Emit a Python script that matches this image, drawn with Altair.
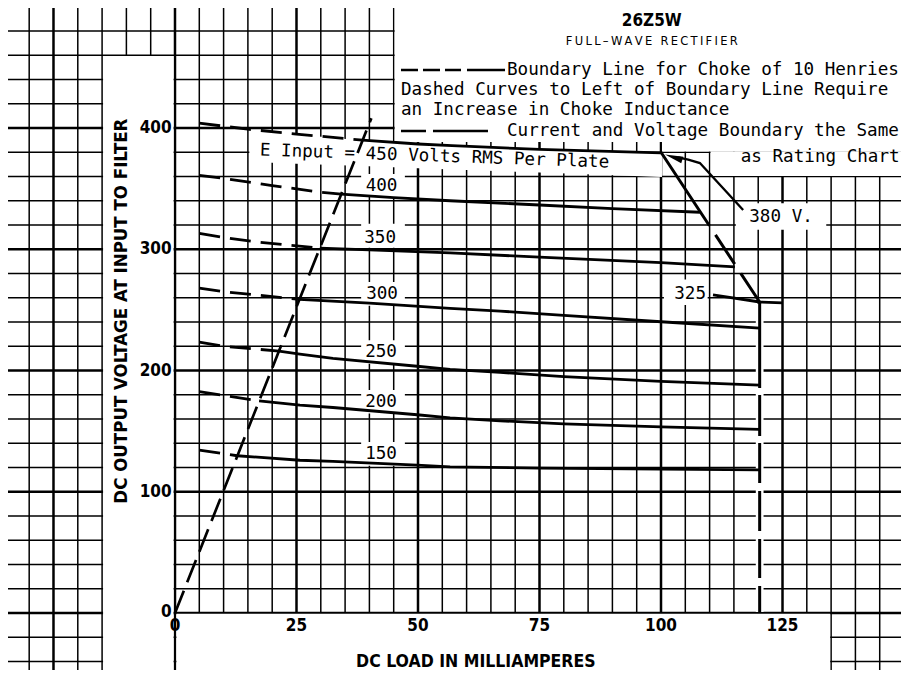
import altair as alt
import pandas as pd
import numpy as np

# ---------------- values ----------------
plate_volts = [450, 400, 350, 300, 250, 200, 150]

load_450 = [5, 15, 25, 38.6, 50, 57, 75, 100]
out_450 = [404, 399, 395, 390, 386.8, 385.4, 382.4, 379.5]
load_400 = [5, 10, 20, 30, 34.2, 45, 56.6, 75, 90, 108]
out_400 = [361, 358.5, 352.5, 347, 345.4, 342.5, 340, 336.5, 333.5, 330.5]
load_350 = [5, 10, 16, 23, 29.8, 40, 56.6, 75, 100, 115.2]
out_350 = [313, 309.7, 306.4, 303.5, 301, 299.5, 297, 293.5, 289, 285.4]
load_300 = [5, 10, 25.6, 40, 56.6, 66.9, 80, 100, 120.3]
out_300 = [268, 265, 258.7, 255.5, 251.3, 249, 245.5, 240.2, 235]
load_250 = [5, 10, 21.4, 25.7, 32.5, 49.8, 56.6, 66.9, 80, 100, 120.3]
out_250 = [223.5, 220, 216, 213.5, 210, 203.5, 201, 198.5, 195, 191, 188]
load_200 = [5, 10, 17.3, 25.7, 32.5, 49.8, 56.6, 66.9, 80, 100, 120.3]
out_200 = [182.5, 179.5, 175, 171.5, 169.5, 163.5, 161, 158.5, 156, 153.5, 151.5]
load_150 = [5, 12.8, 25.7, 32.5, 49.8, 56.6, 75, 100, 120.3]
out_150 = [134.4, 129.7, 126, 125, 122, 120.5, 119.5, 118.7, 118]
# point where each curve meets the 10-henry choke boundary line
cross_index = [3, 4, 4, 2, 2, 2, 1]

load_325 = [110.7, 120.3, 125]
out_325 = [262.3, 256.5, 255.8]

choke_load = [0, 40.4]
choke_out = [0, 408]

rating_diag_load = [100, 120.3]
rating_diag_out = [380, 256.5]
rating_vert_load = [120.3, 120.3]
rating_vert_out = [256.5, 0]

x_ticks = [0, 25, 50, 75, 100, 125]
y_ticks = [0, 100, 200, 300, 400]

# graph-paper rulings (mA every 5, volts every 20)
grid_x = list(range(-35, 155, 5))
grid_y = list(range(-60, 520, 20))

curve_labels = ["400", "350", "300", "250", "200", "150"]

legend_lines = [
    "Boundary Line for Choke of 10 Henries",
    "Dashed Curves  to Left of Boundary Line Require",
    "an Increase in Choke Inductance",
    "Current and Voltage Boundary the Same",
]
legend_last = "as Rating Chart"
title_text = "26Z5W"
subtitle_text = "\u2009".join("FULL\u2013WAVE RECTIFIER")
einput_text = "E Input = 450 Volts RMS Per Plate"
x_title = "DC LOAD IN MILLIAMPERES"
y_title = "DC OUTPUT VOLTAGE AT INPUT TO FILTER"

# ---------------- layout (scale calibration of the graph paper) ----------------
W, H = 893, 662
X_DOMAIN = [-34.36, 149.38]
Y_DOMAIN = [-47.0, 498.97]
MONO = "DejaVu Sans Mono"
BOLD = "DejaVu Sans Condensed, DejaVu Sans"
SANS = "DejaVu Sans"

xs = alt.Scale(domain=X_DOMAIN, nice=False, zero=False)
ys = alt.Scale(domain=Y_DOMAIN, nice=False, zero=False)


def X(field="x"):
    return alt.X(f"{field}:Q", scale=xs, axis=None)


def Y(field="v"):
    return alt.Y(f"{field}:Q", scale=ys, axis=None)


# ---------------- graph paper ----------------
gx = pd.DataFrame({"x": grid_x})
gx["major"] = gx["x"] % 25 == 0
gy = pd.DataFrame({"v": grid_y})
gy["major"] = gy["v"] % 100 == 0

MINOR_W, MAJOR_W = 1.5, 2.5
gx_minor = alt.Chart(gx[~gx["major"]]).mark_rule(color="black", strokeWidth=MINOR_W).encode(x=X())
gx_major = alt.Chart(gx[gx["major"]]).mark_rule(color="black", strokeWidth=MAJOR_W).encode(x=X())
gy_minor = alt.Chart(gy[~gy["major"]]).mark_rule(color="black", strokeWidth=MINOR_W).encode(y=Y())
gy_major = alt.Chart(gy[gy["major"]]).mark_rule(color="black", strokeWidth=MAJOR_W).encode(y=Y())

# ---------------- white masks over the graph paper ----------------
label_x1, label_x2 = 38.3, 47.3
masks = pd.DataFrame(
    [
        (-14.8, -0.3, -60, 459.4),      # y-axis strip
        (0.3, 134.8, -60, -0.6),        # x-axis strip
        (45.2, 151, 388.4, 501),        # legend box
        (100.2, 151, 380.6, 388.4),
        (110.2, 151, 360.5, 380.6),
        (label_x1, label_x2, 343, 362),
        (label_x1, label_x2, 301.3, 321),
        (label_x1, label_x2, 253.5, 273),
        (label_x1, label_x2, 205.5, 225),
        (label_x1, label_x2, 164.5, 184),
        (label_x1, label_x2, 121.5, 141),
        (115.4, 134, 316, 338),         # 380 V. label
        (100.6, 109.6, 254, 275),       # 325 label
        (119.5, 121.1, 0.8, 255),       # gaps of the dashed 120 mA boundary
    ],
    columns=["x", "x2", "v", "v2"],
)
mask_layer = alt.Chart(masks).mark_rect(color="white", opacity=1, clip=True).encode(
    x=X("x"), x2="x2:Q", y=Y("v"), y2="v2:Q"
)

# mask behind the "E Input" caption, bounded above by the 450 V curve
ein_x = [15.3, 25, 38.6, 50, 57, 75, 100.2]
ein_top = np.interp(ein_x, load_450, out_450) - 0.3
ein_bot = np.interp(ein_x, [15.3, 100.2], [372, 359.5])
ein_df = pd.DataFrame({"x": ein_x, "v": ein_bot, "v2": ein_top})
ein_layer = alt.Chart(ein_df).mark_area(color="white", opacity=1, clip=True).encode(
    x=X(), y=Y(), y2="v2:Q"
)

# ---------------- curves ----------------
loads = [load_450, load_400, load_350, load_300, load_250, load_200, load_150]
outs = [out_450, out_400, out_350, out_300, out_250, out_200, out_150]
rows = []
for pv, ld, ov, k in zip(plate_volts, loads, outs, cross_index):
    for i, (a, b) in enumerate(zip(ld, ov)):
        if i <= k:
            rows.append((pv, "dashed", a, b))
        if i >= k:
            rows.append((pv, "solid", a, b))
for a, b in zip(load_325, out_325):
    rows.append((325, "solid", a, b))
curves = pd.DataFrame(rows, columns=["curve", "style", "x", "v"])

dashed_layer = alt.Chart(curves[curves["style"] == "dashed"]).mark_line(
    color="black", strokeWidth=2.8, strokeDash=[21, 10], clip=True
).encode(x=X(), y=Y(), detail="curve:N")
solid_layer = alt.Chart(curves[curves["style"] == "solid"]).mark_line(
    color="black", strokeWidth=2.8, clip=True
).encode(x=X(), y=Y(), detail="curve:N")

choke_df = pd.DataFrame({"x": choke_load, "v": choke_out})
choke_layer = alt.Chart(choke_df).mark_line(
    color="black", strokeWidth=2.7, strokeDash=[24, 9], clip=True
).encode(x=X(), y=Y())

diag_df = pd.DataFrame({"x": rating_diag_load, "v": rating_diag_out})
diag_layer = alt.Chart(diag_df).mark_line(
    color="black", strokeWidth=3, strokeDash=[88, 11, 35, 11, 60], clip=True
).encode(x=X(), y=Y())

vert_df = pd.DataFrame({"x": rating_vert_load, "v": rating_vert_out, "i": [0, 1]})
vert_layer = alt.Chart(vert_df).mark_line(
    color="black", strokeWidth=3, strokeDash=[86, 7, 41, 7, 40, 8, 40, 8, 39, 8, 60], clip=True
).encode(x=X(), y=Y(), order="i:Q")

# arrow from the "380 V." label to the end of the 450 V curve
arrow_df = pd.DataFrame({"x": [116.9, 108.0, 105.6, 103.5], "v": [332.4, 371.1, 374.0, 375.7],
                         "i": [0, 1, 2, 3]})
arrow_layer = alt.Chart(arrow_df).mark_line(color="black", strokeWidth=2.3, clip=True).encode(
    x=X(), y=Y(), order="i:Q"
)
head_df = pd.DataFrame({"x": [102.6], "v": [375.9]})
head_layer = alt.Chart(head_df).mark_point(
    shape="M-1,0L1,-0.38L1,0.38Z", filled=True, color="black", opacity=1, size=330, angle=18
).encode(x=X(), y=Y())

# legend line samples
samp1 = pd.DataFrame({"x": [46.5, 67.9], "v": [447.8, 447.8]})
samp1_layer = alt.Chart(samp1).mark_line(
    color="black", strokeWidth=2.6, strokeDash=[17, 5, 17, 5, 16, 6, 80]
).encode(x=X(), y=Y())
samp2 = pd.DataFrame({"x": [46.5, 64.4], "v": [397.5, 397.5]})
samp2_layer = alt.Chart(samp2).mark_line(
    color="black", strokeWidth=2.6, strokeDash=[25, 7, 80]
).encode(x=X(), y=Y())

# ---------------- texts ----------------
leg_df = pd.DataFrame({"x": [68.3, 46.5, 46.5, 68.3], "v": [447.8, 431.3, 414.8, 397.5],
                       "t": legend_lines})
leg_layer = alt.Chart(leg_df).mark_text(
    align="left", baseline="middle", font=MONO, fontSize=17.6, color="black"
).encode(x=X(), y=Y(), text="t:N")

leg5 = pd.DataFrame({"x": [149.1], "v": [376.1], "t": [legend_last]})
leg5_layer = alt.Chart(leg5).mark_text(
    align="right", baseline="middle", font=MONO, fontSize=17.6, color="black"
).encode(x=X(), y=Y(), text="t:N")

title_df = pd.DataFrame({"x": [98.1], "v": [488.2], "t": [title_text]})
title_layer = alt.Chart(title_df).mark_text(
    align="center", baseline="middle", font=BOLD, fontWeight="bold", fontSize=17, color="black"
).encode(x=X(), y=Y(), text="t:N")

sub_df = pd.DataFrame({"x": [98.1], "v": [470.9], "t": [subtitle_text]})
sub_layer = alt.Chart(sub_df).mark_text(
    align="center", baseline="middle", font=SANS, fontSize=11.5, color="black"
).encode(x=X(), y=Y(), text="t:N")

ein_t = pd.DataFrame({"x": [53.4], "v": [376.5], "t": [einput_text]})
ein_t_layer = alt.Chart(ein_t).mark_text(
    align="center", baseline="middle", font=MONO, fontSize=17.6, color="black", angle=2
).encode(x=X(), y=Y(), text="t:N")

lab_df = pd.DataFrame({
    "x": [42.5, 42.2, 42.6, 42.4, 42.4, 42.4, 124.7, 106.0],
    "v": [352.2, 309.3, 263.1, 215.3, 174.0, 131.1, 326.6, 263.1],
    "t": curve_labels + ["380 V.", "325"],
})
lab_layer = alt.Chart(lab_df).mark_text(
    align="center", baseline="middle", font=MONO, fontSize=17.6, color="black"
).encode(x=X(), y=Y(), text="t:N")

xt_df = pd.DataFrame({"x": x_ticks, "v": [-11.0] * len(x_ticks), "t": [str(t) for t in x_ticks]})
xt_layer = alt.Chart(xt_df).mark_text(
    align="center", baseline="middle", font=BOLD, fontWeight="bold", fontSize=17, color="black"
).encode(x=X(), y=Y(), text="t:N")

yt_df = pd.DataFrame({"x": [-0.7] * len(y_ticks), "v": [1.0 if t == 0 else t for t in y_ticks],
                      "t": [str(t) for t in y_ticks]})
yt_layer = alt.Chart(yt_df).mark_text(
    align="right", baseline="middle", font=BOLD, fontWeight="bold", fontSize=17, color="black"
).encode(x=X(), y=Y(), text="t:N")

xtitle_df = pd.DataFrame({"x": [61.9], "v": [-40.0], "t": [x_title]})
xtitle_layer = alt.Chart(xtitle_df).mark_text(
    align="center", baseline="middle", font=BOLD, fontWeight="bold", fontSize=17.5, color="black"
).encode(x=X(), y=Y(), text="t:N")

ytitle_df = pd.DataFrame({"x": [-11.1], "v": [249.0], "t": [y_title]})
ytitle_layer = alt.Chart(ytitle_df).mark_text(
    align="center", baseline="middle", font=BOLD, fontWeight="bold", fontSize=18.5, color="black",
    angle=270
).encode(x=X(), y=Y(), text="t:N")

chart = alt.layer(
    gx_minor, gy_minor, gx_major, gy_major,
    mask_layer, ein_layer,
    dashed_layer, solid_layer, choke_layer, diag_layer, vert_layer,
    arrow_layer, head_layer, samp1_layer, samp2_layer,
    leg_layer, leg5_layer, title_layer, sub_layer, ein_t_layer, lab_layer,
    xt_layer, yt_layer, xtitle_layer, ytitle_layer,
).properties(
    width=W, height=H, autosize=alt.AutoSizeParams(type="none"), padding=0,
    background="white",
).configure_view(stroke=None)

chart.save("out.html", embed_options={"renderer": "svg", "actions": False})
